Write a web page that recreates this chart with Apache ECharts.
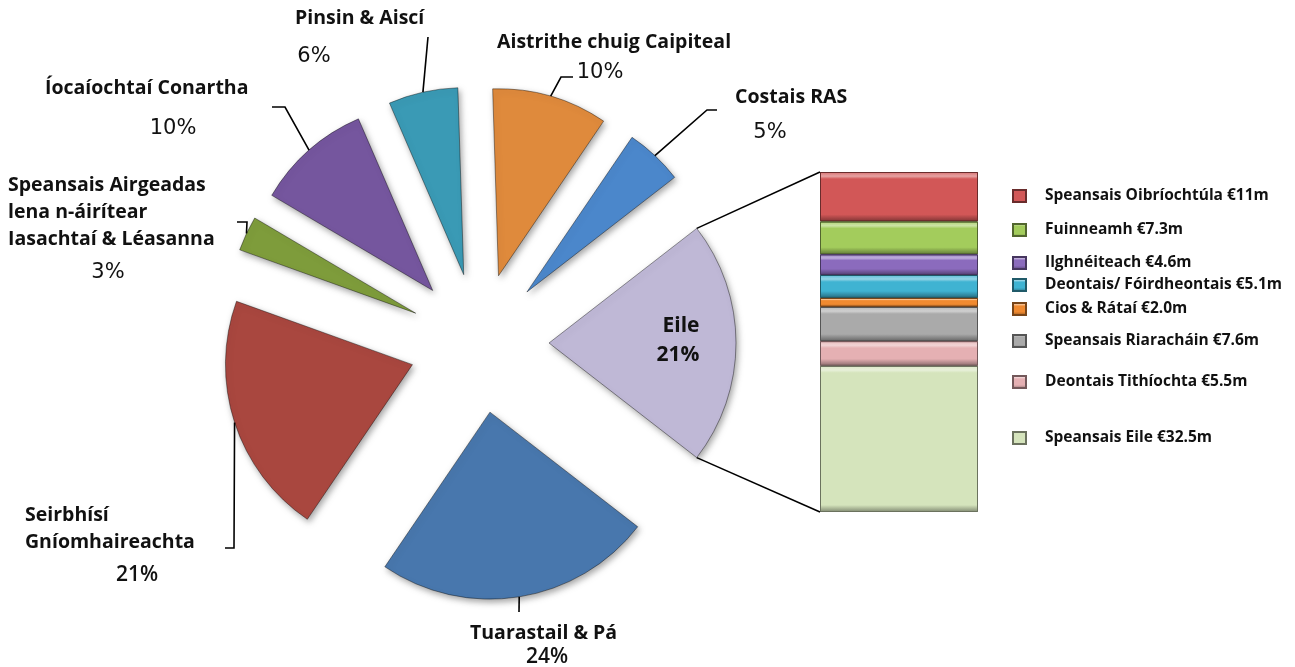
<!DOCTYPE html>
<html>
<head>
<meta charset="utf-8">
<title>Caiteachas</title>
<script src="https://cdn.jsdelivr.net/npm/echarts@6/dist/echarts.min.js"></script>
<style>
  html, body { margin: 0; padding: 0; background: #fff; }
  #chart { width: 1295px; height: 667px; }
</style>
</head>
<body>
<div id="chart"></div>
<script>
// pie slices, clockwise, starting with "Eile" (the slice facing the bar)
var pieNames = ['Eile', 'Tuarastail & Pá', 'Seirbhísí\nGníomhaireachta',
  'Speansais Airgeadas\nlena n-áirítear\nIasachtaí & Léasanna',
  'Íocaíochtaí Conartha', 'Pinsin & Aiscí', 'Aistrithe chuig Caipiteal', 'Costais RAS'];
var piePct = [21, 24, 21, 3, 10, 6, 10, 5];
var pieColors = ['#bfb8d6', '#4877ad', '#a9473f', '#7e9c3b', '#75569e', '#3a9ab5', '#df8a3c', '#4b87cb'];

// breakdown of "Eile" (€m), top to bottom in the bar
var otherNames = ['Speansais Oibríochtúla', 'Fuinneamh', 'Ilghnéiteach', 'Deontais/ Fóirdheontais',
  'Cios & Rátaí', 'Speansais Riaracháin', 'Deontais Tithíochta', 'Speansais Eile'];
var otherValues = [11, 7.3, 4.6, 5.1, 2.0, 7.6, 5.5, 32.5];
var otherColors = ['#d25757', '#a3cc5c', '#8b6bbd', '#3fb3d2', '#f08a30', '#aaaaaa', '#e5b0b3', '#d5e4bc'];

// layout
var cx = 479, cy = 343, R = 187, explode = 70;
var barLeft = 820, barTop = 172, barW = 158, barH = 340;
var legendY = [196, 230, 263, 285, 309, 341, 382, 438];

// where each pie label sits (name block, percentage, leader line after the arc point)
var nameFont = 'bold 19.5px "Open Sans"';
var eileFont = 'bold 21px "Open Sans"';
var pctWide = '21px "DejaVu Sans"';
var pctNarrow = '600 21px "Open Sans"';
var labelSpots = [
  { inside: true, x: 681, y: 326 },
  { nx: 470, ny: 633, px: 547, py: 657, pf: pctNarrow, line: [[519, 612]] },
  { nx: 25, ny: 515, px: 137, py: 575, pf: pctNarrow, line: [[234, 548], [225, 548]] },
  { nx: 8, ny: 185, px: 108, py: 273, pf: pctWide, line: [[247, 222], [237, 222]] },
  { nx: 45, ny: 88, px: 173, py: 129, pf: pctWide, line: [[285, 107], [272, 107]] },
  { nx: 295, ny: 18, px: 314, py: 57, pf: pctWide, line: [[428, 37]] },
  { nx: 497, ny: 42, px: 600, py: 73, pf: pctWide, line: [[561, 77], [573, 77]] },
  { nx: 735, ny: 97, px: 770, py: 133, pf: pctWide, line: [[707, 110], [717, 110]] }
];

function shade(hex, f) {
  var n = parseInt(hex.slice(1), 16), r = n >> 16, g = (n >> 8) & 255, b = n & 255;
  function m(c) { return Math.round(f >= 0 ? c + (255 - c) * f : c * (1 + f)); }
  return 'rgb(' + m(r) + ',' + m(g) + ',' + m(b) + ')';
}
function fmtM(v) { return '€' + (v < 10 ? v.toFixed(1) : String(v)) + 'm'; }

var total = piePct.reduce(function (a, b) { return a + b; }, 0);
var otherTotal = otherValues.reduce(function (a, b) { return a + b; }, 0);
var startDeg = piePct[0] / total * 360 / 2;   // "Eile" centred on 3 o'clock

// slice angles (degrees, counter-clockwise from 3 o'clock)
var angles = [], acc = 0;
piePct.forEach(function (p) {
  var a0 = startDeg - acc / total * 360;
  acc += p;
  var a1 = startDeg - acc / total * 360;
  angles.push({ a0: a0, a1: a1, mid: (a0 + a1) / 2 });
});
function slicePoint(i, deg, r) {
  var m = angles[i].mid * Math.PI / 180, a = deg * Math.PI / 180;
  var ax = cx + explode * Math.cos(m), ay = cy - explode * Math.sin(m);
  return [ax + r * Math.cos(a), ay - r * Math.sin(a)];
}

var myChart = echarts.init(document.getElementById('chart'));

// bevel-ish look: light band on top, dark band at the bottom, about 7px each
var barSeries = otherNames.map(function (n, i) {
  var c = otherColors[i];
  var h = otherValues[i] / otherTotal * barH;
  var band = Math.min(0.3, 7 / h);
  return {
    type: 'bar',
    name: n,
    stack: 'eile',
    barWidth: '100%',
    data: [otherValues[i]],
    itemStyle: {
      color: new echarts.graphic.LinearGradient(0, 0, 0, 1, [
        { offset: 0, color: shade(c, 0.15) },
        { offset: band * 0.6, color: shade(c, 0.45) },
        { offset: band, color: c },
        { offset: 1 - band, color: c },
        { offset: 1, color: shade(c, -0.4) }
      ]),
      borderColor: shade(c, -0.5),
      borderWidth: 1
    },
    emphasis: { disabled: true }
  };
});

var legends = otherNames.map(function (n, i) {
  return {
    data: [n],
    left: 1012,
    top: legendY[i] - 8,
    padding: 0,
    icon: 'rect',
    itemWidth: 13,
    itemHeight: 12,
    selectedMode: false,
    formatter: function (name) { return name + ' ' + fmtM(otherValues[i]); },
    textStyle: { fontFamily: 'Open Sans', fontWeight: 'bold', fontSize: 15.5, color: '#111', padding: [0, 0, 0, 14] }
  };
});

var option = {
  animation: false,
  backgroundColor: '#fff',
  legend: legends,
  grid: { left: barLeft, top: barTop, width: barW, height: barH },
  xAxis: { type: 'category', data: ['Eile'], show: false },
  yAxis: { type: 'value', min: 0, max: otherTotal, inverse: true, show: false },
  series: [{
    type: 'pie',
    center: [cx, cy],
    radius: [0, R],
    startAngle: startDeg,
    clockwise: true,
    selectedMode: 'multiple',
    selectedOffset: explode,
    avoidLabelOverlap: false,
    label: { show: false },
    labelLine: { show: false },
    emphasis: { disabled: true },
    itemStyle: {
      borderColor: 'rgba(0,0,0,0.4)', borderWidth: 1,
      shadowBlur: 6, shadowOffsetX: 2, shadowOffsetY: 3, shadowColor: 'rgba(0,0,0,0.35)'
    },
    select: { itemStyle: { borderColor: 'rgba(0,0,0,0.4)', borderWidth: 1 } },
    data: pieNames.map(function (n, i) {
      return { name: n, value: piePct[i], selected: true, itemStyle: { color: pieColors[i] } };
    })
  }].concat(barSeries)
};
myChart.setOption(option);

// labels, leader lines and the connector lines to the bar
var graphics = [];
labelSpots.forEach(function (s, i) {
  var pct = Math.round(piePct[i] / total * 100) + '%';
  if (s.inside) {
    graphics.push({ type: 'text', z: 100, x: s.x, y: s.y, style: { text: pieNames[i], font: eileFont, fill: '#111', align: 'center', verticalAlign: 'middle' } });
    graphics.push({ type: 'text', z: 100, x: s.x - 3, y: s.y + 29, style: { text: pct, font: eileFont, fill: '#111', align: 'center', verticalAlign: 'middle' } });
    return;
  }
  graphics.push({ type: 'text', z: 100, x: s.nx, y: s.ny - 13.5, style: { text: pieNames[i], font: nameFont, lineHeight: 27, fill: '#111', align: 'left', verticalAlign: 'top' } });
  graphics.push({ type: 'text', z: 100, x: s.px, y: s.py, style: { text: pct, font: s.pf, fill: '#111', align: 'center', verticalAlign: 'middle' } });
  var pts = [slicePoint(i, angles[i].mid, R)].concat(s.line);
  graphics.push({ type: 'polyline', z: 100, shape: { points: pts }, style: { stroke: '#000', lineWidth: 1.6, fill: null } });
});

var yTop = myChart.convertToPixel({ yAxisIndex: 0 }, 0);
var yBottom = myChart.convertToPixel({ yAxisIndex: 0 }, otherTotal);
var eTop = slicePoint(0, angles[0].a0, R), eBottom = slicePoint(0, angles[0].a1, R);
graphics.push({ type: 'line', z: 100, shape: { x1: eTop[0], y1: eTop[1], x2: barLeft, y2: yTop }, style: { stroke: '#000', lineWidth: 1.6 } });
graphics.push({ type: 'line', z: 100, shape: { x1: eBottom[0], y1: eBottom[1], x2: barLeft, y2: yBottom }, style: { stroke: '#000', lineWidth: 1.6 } });

myChart.setOption({ graphic: graphics });
</script>
</body>
</html>
